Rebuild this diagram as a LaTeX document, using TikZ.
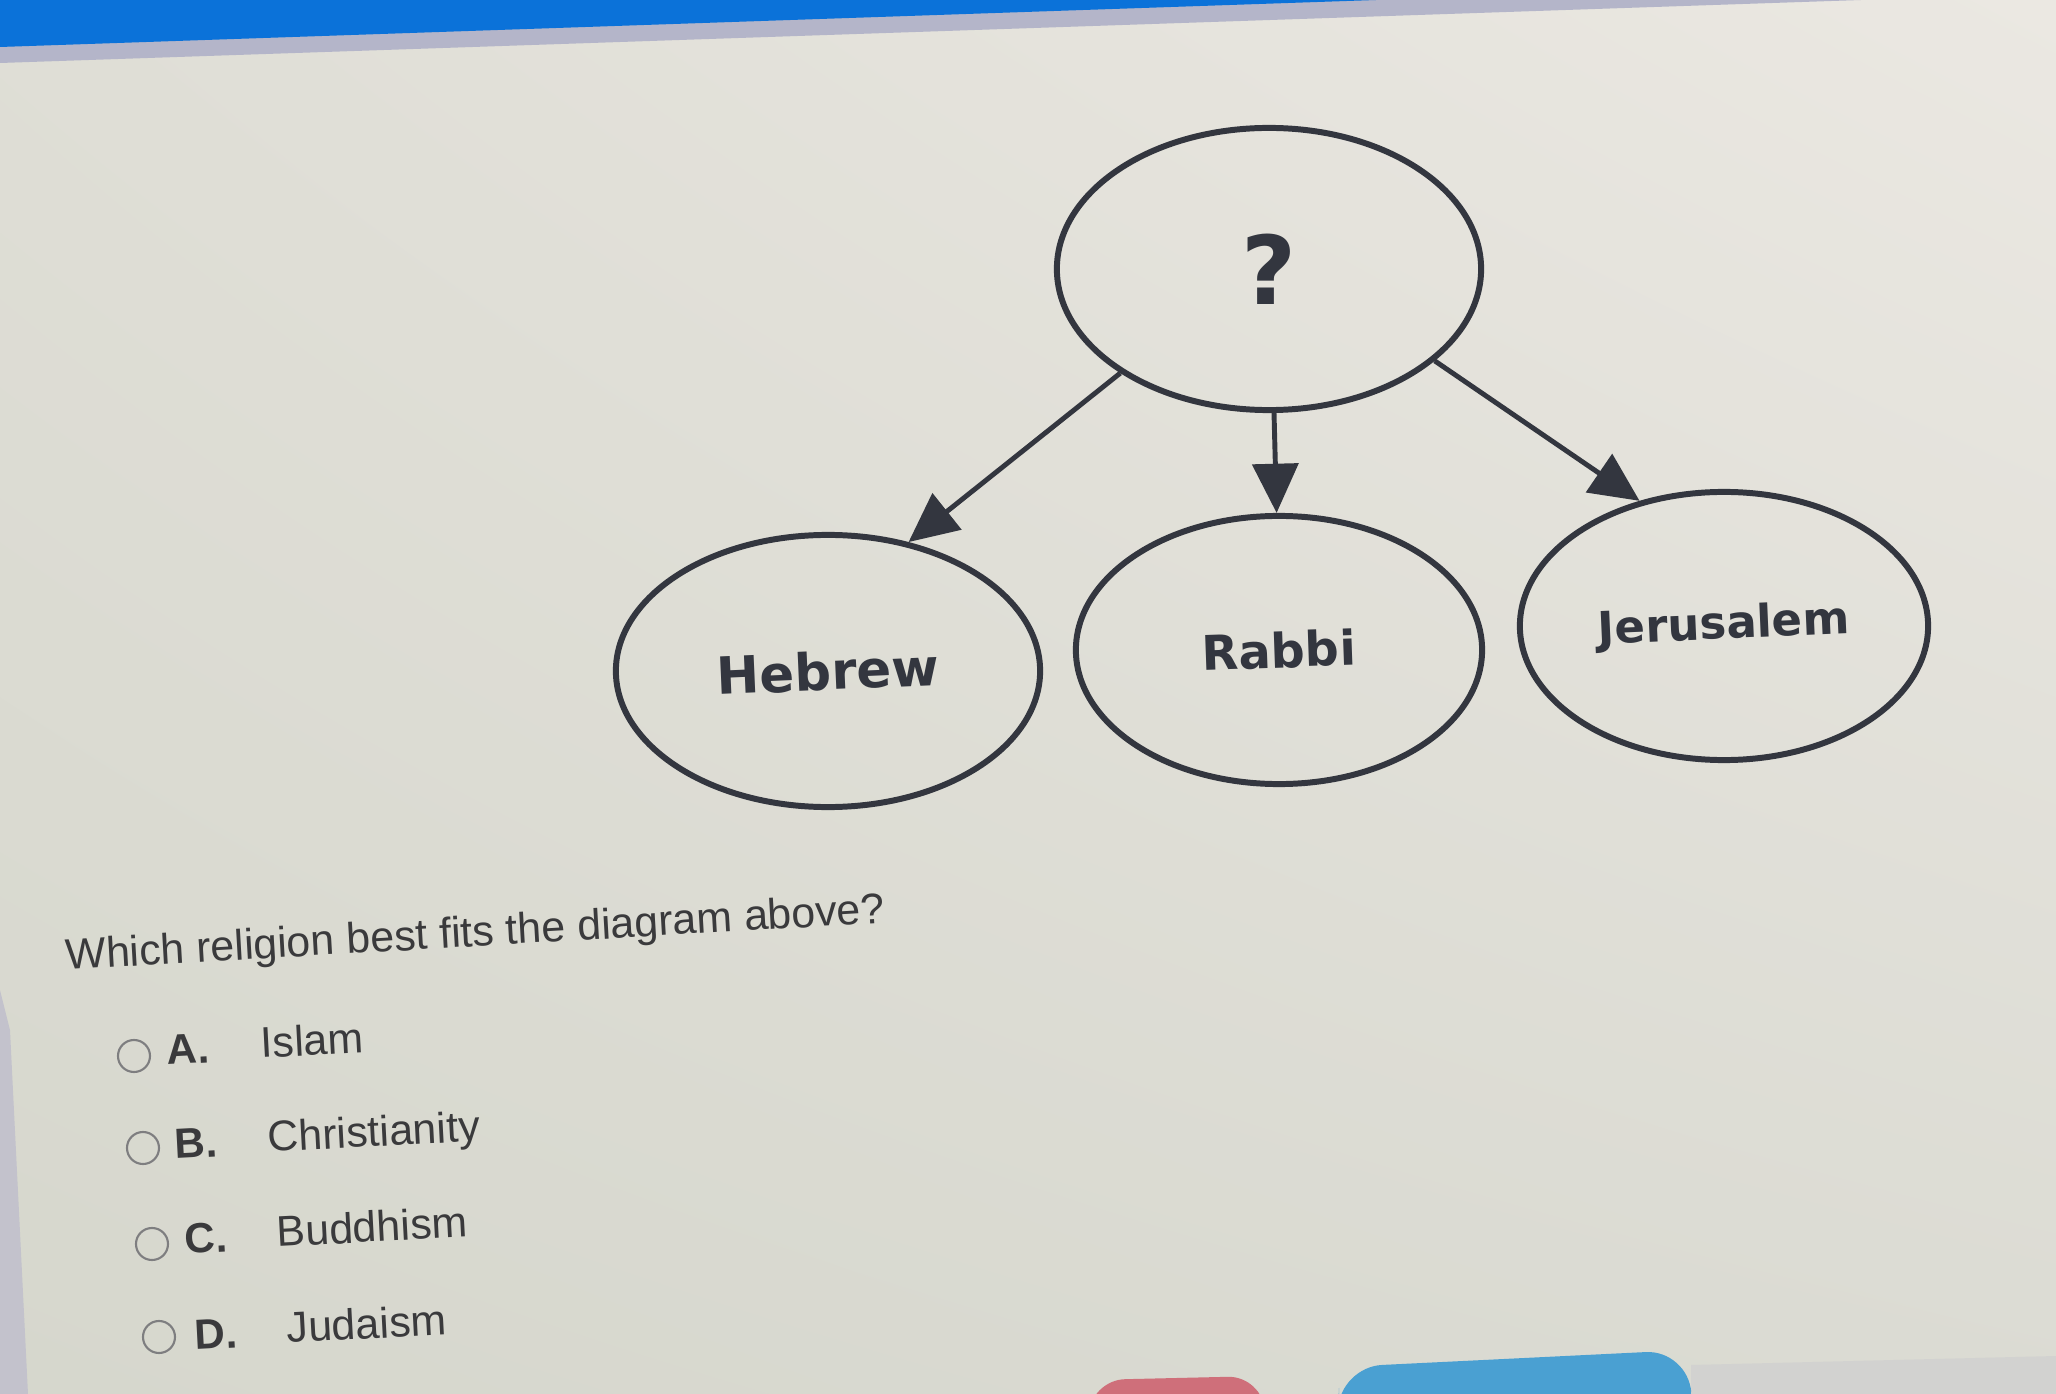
\documentclass[tikz,border=0pt]{standalone}
\usepackage{fontspec}
\setmainfont{Liberation Sans}
\newfontfamily\dejavu{DejaVu Sans}
\usepackage{graphicx}
\usetikzlibrary{shapes.geometric,arrows.meta,shadings}
\definecolor{bgA}{HTML}{DFDED6}
\definecolor{bgB}{HTML}{EBE8E2}
\definecolor{bgC}{HTML}{D6D7CD}
\definecolor{bgD}{HTML}{DBDBD3}
\definecolor{barblue}{HTML}{0B72D9}
\definecolor{barlav}{HTML}{B4B5C9}
\definecolor{inkdiag}{HTML}{33363F}
\definecolor{inktext}{HTML}{3A3A3C}
\definecolor{radio}{HTML}{7E7E80}
\definecolor{btnpink}{HTML}{CF6F7A}
\definecolor{btnteal}{HTML}{4AA0D2}
\definecolor{edgegray}{HTML}{C3C2CC}
\definecolor{shadowgray}{HTML}{D2D2D0}
\tikzset{
  bubble/.style={ellipse, draw=inkdiag, line width=1.7pt, inner sep=0pt,
    text=inkdiag, font=\dejavu\bfseries},
  link/.style={draw=inkdiag, line width=1.4pt, -{Triangle[length=14pt,width=13pt]}},
  radiobtn/.style={circle, draw=radio, line width=0.6pt, minimum size=0.32cm, inner sep=0pt},
  optletter/.style={anchor=base west, rotate=3, inner sep=0pt, text=inktext,
    font=\fontsize{12}{14}\selectfont\bfseries},
  optword/.style={anchor=base west, rotate=3, inner sep=0pt, text=inktext,
    font=\fontsize{12.2}{14}\selectfont},
}
\begin{document}
\begin{tikzpicture}[x=0.01cm,y=-0.01cm]
\useasboundingbox (0,0) rectangle (2056,1394);
% background
\shade[upper left=bgA, upper right=bgB, lower left=bgC, lower right=bgD] (0,0) rectangle (2056,1394);
\fill[barlav] (0,0) -- (1861,0) -- (0,63) -- cycle;
\fill[barblue] (0,0) -- (1376,0) -- (0,47) -- cycle;
\fill[edgegray] (0,990) -- (10,1030) -- (28,1394) -- (0,1394) -- cycle;
\fill[shadowgray] (1691,1365) -- (2056,1356) -- (2056,1394) -- (1691,1394) -- cycle;
\fill[btnpink, rounded corners=10] (1088,1430) -- (1090,1380) -- (1263,1376) -- (1266,1430) -- cycle;
\fill[btnteal, rounded corners=12] (1337,1430) -- (1340,1367) -- (1688,1350) -- (1694,1430) -- cycle;

% diagram
\node[bubble, minimum width=4.24cm, minimum height=2.82cm,
  font=\fontsize{27}{30}\selectfont\dejavu\bfseries] (q) at (1269,269) {\raisebox{-3pt}{?}};
\node[bubble, minimum width=4.24cm, minimum height=2.72cm,
  font=\fontsize{14.6}{16}\selectfont\dejavu\bfseries] (heb) at (828,671) {\rotatebox{2.5}{Hebrew}};
\node[bubble, minimum width=4.06cm, minimum height=2.68cm,
  font=\fontsize{13.6}{16}\selectfont\dejavu\bfseries] (rab) at (1279,650) {\rotatebox{2}{Rabbi}};
\node[bubble, minimum width=4.08cm, minimum height=2.68cm,
  font=\fontsize{12.8}{15}\selectfont\dejavu\bfseries] (jer) at (1724,626) {\rotatebox{2.5}{Jerusalem}};

\draw[link] (q.215) -- (heb.58);
\draw[link] (q.272) -- (rab.91);
\draw[link] (q.331) -- (jer.124);

% question
\node[anchor=base west, rotate=3.3, inner sep=0pt, text=inktext,
  font=\fontsize{12.2}{14}\selectfont] (qtext) at (66,970) {Which religion best fits the diagram above?};

% options
\node[radiobtn] (ra) at (134,1056) {};
\node[optletter] (la) at (167,1065) {A.};
\node[optword] (wa) at (261,1058) {Islam};

\node[radiobtn] (rb) at (143,1148) {};
\node[optletter] (lb) at (175,1159) {B.};
\node[optword] (wb) at (268,1152) {Christianity};

\node[radiobtn] (rc) at (152,1244) {};
\node[optletter] (lc) at (185,1254) {C.};
\node[optword] (wc) at (277,1247) {Buddhism};

\node[radiobtn] (rd) at (159,1337) {};
\node[optletter] (ld) at (195,1350) {D.};
\node[optword] (wd) at (287,1343) {Judaism};
\end{tikzpicture}
\end{document}
